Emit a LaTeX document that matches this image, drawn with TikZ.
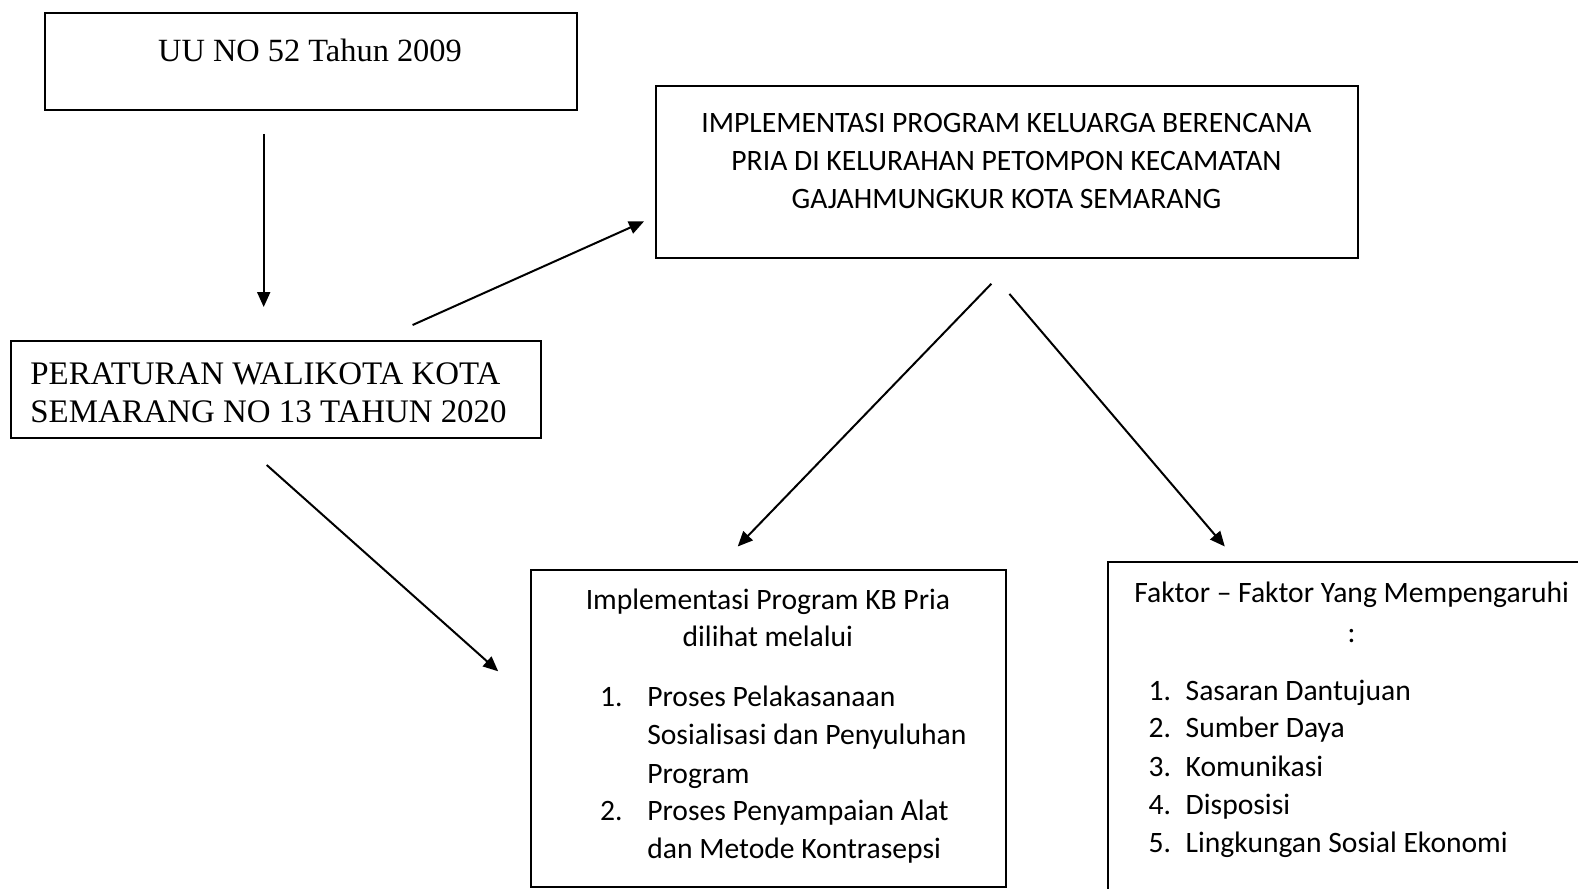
\documentclass[tikz,border=0pt]{standalone}
\usepackage{fontspec}
\setmainfont{Liberation Serif}
\newfontfamily\calfont{Carlito}
\usetikzlibrary{arrows.meta}
\begin{document}
\begin{tikzpicture}[x=1pt,y=-1pt,
  box/.style={draw,line width=2pt,inner sep=0pt,anchor=north west},
  conn/.style={line width=2pt,-{Triangle[length=15pt,width=13pt]}},
  cline/.style={anchor=base,inner sep=0pt,font=\calfont\fontsize{29.6}{35}\selectfont},
  cleft/.style={cline,anchor=base west},
  tsmall/.style={anchor=base,inner sep=0pt,font=\fontsize{32.4}{38}\selectfont},
  tbig/.style={anchor=base west,inner sep=0pt,font=\fontsize{32.9}{39}\selectfont}]
\useasboundingbox (0,0) rectangle (1578,888);
\clip (0,0) rectangle (1578,888);
% boxes
\node[box,minimum width=531.3pt,minimum height=96.6pt] (uu) at (44.3,12.1) {};
\node[box,minimum width=530.4pt,minimum height=96.8pt] (perwal) at (10,340) {};
\node[box,minimum width=701.4pt,minimum height=171.1pt] (impl) at (655.2,85.5) {};
\node[box,minimum width=475pt,minimum height=317pt] (kb) at (530.4,568.6) {};
\node[box,minimum width=600pt,minimum height=400pt] (faktor) at (1107,560.6) {};
% texts
\node[tsmall] (uut) at (310,61.5) {UU NO 52 Tahun 2009};
\node[tbig] (pw1) at (30.2,384) {PERATURAN WALIKOTA KOTA};
\node[tbig] (pw2) at (30.2,422) {SEMARANG NO 13 TAHUN 2020};
\node[cline] (im1) at (1006.4,132) {IMPLEMENTASI PROGRAM KELUARGA BERENCANA};
\node[cline] (im2) at (1006.4,170.2) {PRIA DI KELURAHAN PETOMPON KECAMATAN};
\node[cline] (im3) at (1006.4,208.5) {GAJAHMUNGKUR KOTA SEMARANG};
\node[cline] (kb1) at (767.9,609) {Implementasi Program KB Pria};
\node[cline] (kb2) at (767.9,646.2) {dilihat melalui};
\node[cleft] (kbn1) at (599.8,706.6) {1.};
\node[cleft] (kbi1a) at (647.1,706.6) {Proses Pelakasanaan};
\node[cleft] (kbi1b) at (647.1,744.9) {Sosialisasi dan Penyuluhan};
\node[cleft] (kbi1c) at (647.1,783.1) {Program};
\node[cleft] (kbn2) at (599.8,820.3) {2.};
\node[cleft] (kbi2a) at (647.1,820.3) {Proses Penyampaian Alat};
\node[cleft] (kbi2b) at (647.1,858.6) {dan Metode Kontrasepsi};
\node[cline] (fk1) at (1351.6,602) {Faktor – Faktor Yang Mempengaruhi};
\node[cline] (fk2) at (1351.6,642.2) {:};
\node[cleft] (fn1) at (1148.3,700.6) {1.};
\node[cleft] (fi1) at (1185.5,700.6) {Sasaran Dantujuan};
\node[cleft] (fn2) at (1148.3,737.8) {2.};
\node[cleft] (fi2) at (1185.5,737.8) {Sumber Daya};
\node[cleft] (fn3) at (1148.3,776.1) {3.};
\node[cleft] (fi3) at (1185.5,776.1) {Komunikasi};
\node[cleft] (fn4) at (1148.3,814.3) {4.};
\node[cleft] (fi4) at (1185.5,814.3) {Disposisi};
\node[cleft] (fn5) at (1148.3,852.5) {5.};
\node[cleft] (fi5) at (1185.5,852.5) {Lingkungan Sosial Ekonomi};
% connector ends
\coordinate (a1s) at (263.7,133.8);
\coordinate (a1e) at (263.7,307);
\coordinate (a2s) at (412.6,325);
\coordinate (a2e) at (644,221.4);
\coordinate (a3s) at (991.3,283.8);
\coordinate (a3e) at (737.7,546.5);
\coordinate (a4s) at (1009.4,293.9);
\coordinate (a4e) at (1224.8,546.5);
\coordinate (a5s) at (266.7,465);
\coordinate (a5e) at (498.2,671.3);
\draw[conn] (a1s) -- (a1e);
\draw[conn] (a2s) -- (a2e);
\draw[conn] (a3s) -- (a3e);
\draw[conn] (a4s) -- (a4e);
\draw[conn] (a5s) -- (a5e);
\end{tikzpicture}
\end{document}
